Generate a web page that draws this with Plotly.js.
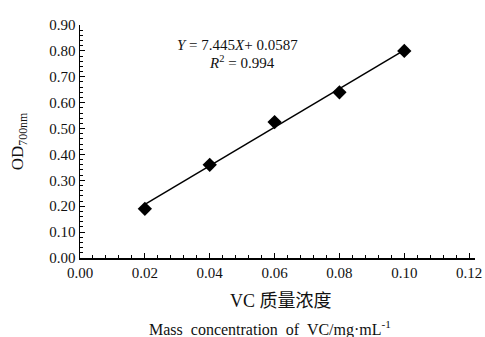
<!DOCTYPE html>
<html><head><meta charset="utf-8">
<script src="https://cdn.plot.ly/plotly-3.0.1.min.js"></script>
<style>html,body{margin:0;padding:0;background:#fff;}</style>
</head><body>
<div id="chart" style="width:485px;height:337px;"></div>
<script>
const concX = [0.02, 0.04, 0.06, 0.08, 0.10];
const odY = [0.19, 0.36, 0.525, 0.64, 0.80];
const fitX = [0.02, 0.10];
const fitY = [0.207, 0.803];
const xTicks = [0, 0.02, 0.04, 0.06, 0.08, 0.10, 0.12];
const xTickLabels = ['0.00','0.02','0.04','0.06','0.08','0.10','0.12'];
const yTicks = [0,0.1,0.2,0.3,0.4,0.5,0.6,0.7,0.8,0.9];
const yTickLabels = ['0.00','0.10','0.20','0.30','0.40','0.50','0.60','0.70','0.80','0.90'];

const font = 'Liberation Serif, Noto Sans CJK SC, serif';
const traces = [
  {x: fitX, y: fitY, mode: 'lines', line: {color: '#000', width: 1.5}, hoverinfo: 'skip', showlegend: false},
  {x: concX, y: odY, mode: 'markers', marker: {symbol: 'diamond', size: 11, color: '#000'}, showlegend: false}
];
const layout = {
  width: 485, height: 337,
  margin: {l: 80, r: 10, t: 25, b: 79},
  paper_bgcolor: '#fff', plot_bgcolor: '#fff',
  font: {family: font, size: 14, color: '#111'},
  xaxis: {
    range: [0, 0.1218], tickvals: xTicks, ticktext: xTickLabels,
    showgrid: false, zeroline: false, showline: true, linecolor: '#000', linewidth: 1.5,
    ticks: 'inside', ticklen: 5, tickcolor: '#000', tickwidth: 1.2,
    ticklabeloverflow: 'allow',
    minor: {dtick: 0.004, ticks: 'inside', ticklen: 3, tickcolor: '#000', tickwidth: 1, showgrid: false},
    tickfont: {family: 'Liberation Serif', size: 15, color: '#111'}
  },
  yaxis: {
    range: [0, 0.9], tickvals: yTicks, ticktext: yTickLabels,
    showgrid: false, zeroline: false, showline: true, linecolor: '#000', linewidth: 1.5,
    ticks: 'inside', ticklen: 5, tickcolor: '#000', tickwidth: 1.2,
    ticklabeloverflow: 'allow',
    minor: {dtick: 0.02, ticks: 'inside', ticklen: 3, tickcolor: '#000', tickwidth: 1, showgrid: false},
    tickfont: {family: 'Liberation Serif', size: 15, color: '#111'}
  },
  annotations: [
    {xref: 'paper', yref: 'paper', x: -0.155, y: 0.5, xanchor: 'center', yanchor: 'middle', textangle: -90,
     text: 'OD<sub>700nm</sub>', showarrow: false, font: {family: font, size: 17, color: '#111'}},
    {xref: 'paper', yref: 'paper', x: 0.51, y: -0.135, yanchor: 'top', xanchor: 'center',
     text: 'VC 质量浓度', showarrow: false, font: {family: font, size: 18, color: '#111'}},
    {xref: 'paper', yref: 'paper', x: 0.48, y: -0.25, yanchor: 'top', xanchor: 'center',
     text: 'Mass  concentration  of  VC/mg·mL<sup>-1</sup>', showarrow: false, font: {family: font, size: 16, color: '#111'}},
    {xref: 'x', yref: 'y', x: 0.0292, y: 0.823, xanchor: 'left', yanchor: 'middle',
     text: '<i>Y</i> = 7.445<i>X</i>+ 0.0587', showarrow: false, font: {family: font, size: 15, color: '#111'}},
    {xref: 'x', yref: 'y', x: 0.0392, y: 0.757, xanchor: 'left', yanchor: 'middle',
     text: '<i>R</i><sup>2</sup> = 0.994', showarrow: false, font: {family: font, size: 15, color: '#111'}}
  ]
};
Plotly.newPlot('chart', traces, layout, {displayModeBar: false, staticPlot: true});
</script>
</body></html>
